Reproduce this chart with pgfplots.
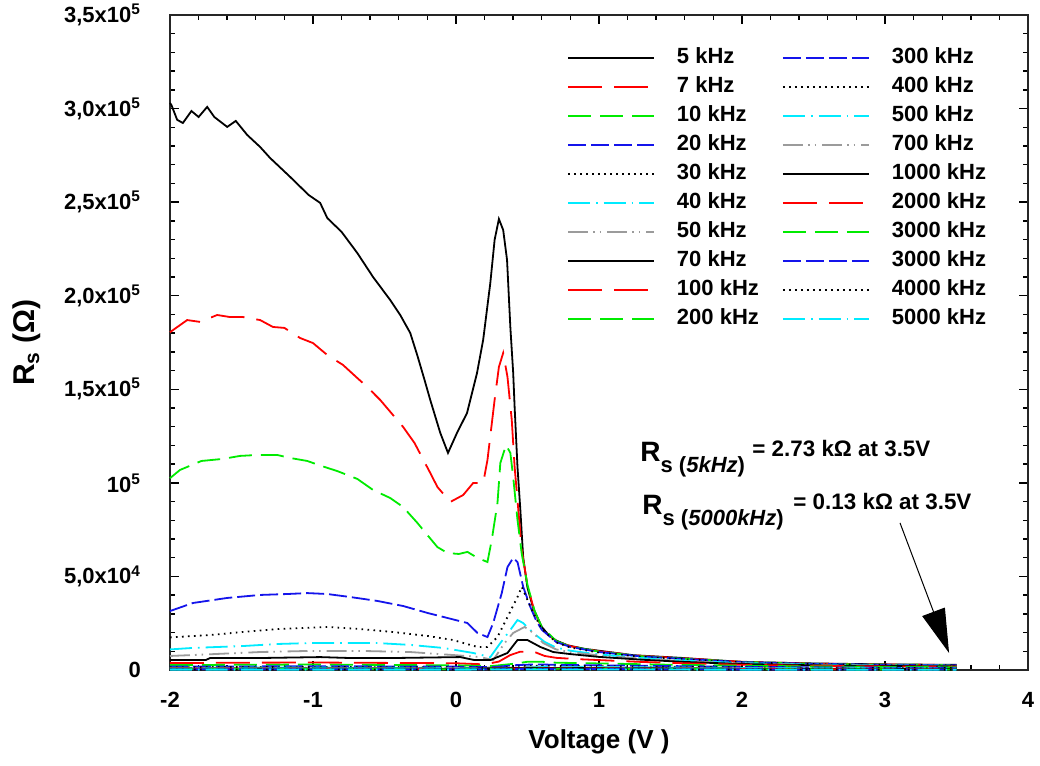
\documentclass[border=0pt]{standalone}
\usepackage{fontspec}
\setmainfont{Liberation Sans}
\usepackage{pgfplots}
\pgfplotsset{compat=1.18}
\usetikzlibrary{arrows.meta}
\definecolor{cR}{RGB}{255,0,0}
\definecolor{cG}{RGB}{0,235,0}
\definecolor{cB}{RGB}{20,20,235}
\definecolor{cC}{RGB}{0,235,255}
\definecolor{cY}{RGB}{155,155,155}
\pgfplotsset{
 sA/.style={black, line width=0.9pt},
 sB/.style={cR, line width=0.9pt, dash pattern=on 17pt off 6pt},
 sC/.style={cG, line width=0.9pt, dash pattern=on 11.5pt off 4.5pt},
 sD/.style={cB, line width=0.9pt, dash pattern=on 9pt off 2.5pt},
 sE/.style={black, line width=0.9pt, dash pattern=on 0.8pt off 2.2pt},
 sF/.style={cC, line width=0.9pt, dash pattern=on 11pt off 3pt on 0.8pt off 3pt},
 sG/.style={cY, line width=0.9pt, dash pattern=on 10pt off 2.5pt on 0.8pt off 2.5pt on 0.8pt off 3pt},
}
\begin{document}
\begin{tikzpicture}
\useasboundingbox (-85pt,-48pt) rectangle (435pt,335pt);
\begin{axis}[
 scale only axis, width=429pt, height=327.5pt,
 xmin=-2, xmax=4, ymin=0, ymax=350000,
 xtick={-2,-1,0,1,2,3,4}, xticklabels={-2,-1,0,1,2,3,4},
 ytick={0,50000,100000,150000,200000,250000,300000,350000},
 yticklabels={0,{5,0x10\textsuperscript{4}},{10\textsuperscript{5}},{1,5x10\textsuperscript{5}},{2,0x10\textsuperscript{5}},{2,5x10\textsuperscript{5}},{3,0x10\textsuperscript{5}},{3,5x10\textsuperscript{5}}},
 scaled y ticks=false,
 minor x tick num=4, minor y tick num=4,
 tick align=inside,
 major tick length=4.5pt, minor tick length=2.5pt,
 every tick/.style={black, line width=0.7pt},
 axis line style={black!85, line width=0.9pt},
 tick label style={font=\bfseries\fontsize{11}{12}\selectfont},
 xticklabel style={yshift=-7.5pt},
 yticklabel style={xshift=-11pt},
 xlabel={Voltage (V )},
 ylabel={R\textsubscript{s} (Ω)},
 every axis x label/.style={at={([yshift=-39pt]axis description cs:0.5,0)}, anchor=base, font=\bfseries\fontsize{13}{14}\selectfont},
 every axis y label/.style={at={([xshift=-71.5pt]axis description cs:0,0.5)}, rotate=90, anchor=center, font=\bfseries\fontsize{15}{16}\selectfont},
 clip=false,
 legend columns=2,
 legend cell align=left,
 legend image code/.code={\draw[#1, line width=1pt] (0pt,0pt) -- (43pt,0pt);},
 legend style={at={(0.4627,0.9511)}, anchor=north west, draw=none, fill=none, inner sep=0pt, outer sep=0pt,
   font=\bfseries\fontsize{11}{13}\selectfont, row sep=4pt,
   nodes={inner sep=0pt, text height=8pt, text depth=2.5pt},
   /tikz/every odd column/.append style={column sep=11pt},
   /tikz/every even column/.append style={column sep=11.5pt}},
]
% 5 kHz
\addplot[sA, forget plot] coordinates {(-2.0,303000) (-1.99,301900) (-1.95,294000) (-1.91,292300) (-1.85,298700) (-1.80,295500) (-1.74,300900) (-1.69,295500) (-1.60,290200) (-1.54,293400) (-1.46,285900) (-1.37,279500) (-1.30,273600) (-1.16,263500) (-1.03,253800) (-0.95,249600) (-0.90,241500) (-0.80,234100) (-0.69,222800) (-0.58,210000) (-0.46,197700) (-0.39,189700) (-0.32,180100) (-0.27,168000) (-0.22,155000) (-0.18,144300) (-0.11,126700) (-0.056,116000) (0.007,126700) (0.077,137300) (0.147,158700) (0.19,176400) (0.24,206800) (0.27,229800) (0.30,241000) (0.33,235100) (0.357,219100) (0.38,183300) (0.40,158700) (0.41,140500) (0.43,108500) (0.45,85500) (0.47,60000) (0.50,44000) (0.54,33000) (0.60,23000) (0.65,18500) (0.70,15800) (0.78,13200) (0.90,11300) (1.0,10300) (1.24,7900) (1.57,6500) (2.0,4300) (2.5,3500) (3.0,3000) (3.5,2730)};
% 7 kHz
\addplot[sB, forget plot] coordinates {(-2.0,180500) (-1.88,187000) (-1.79,186000) (-1.67,189700) (-1.58,188600) (-1.49,188600) (-1.37,187000) (-1.28,183300) (-1.20,182800) (-1.09,177400) (-1.00,174700) (-0.90,168300) (-0.79,163000) (-0.69,156000) (-0.62,151200) (-0.53,144300) (-0.37,129900) (-0.29,121300) (-0.18,105300) (-0.13,97800) (-0.04,89800) (0.05,93500) (0.12,99900) (0.19,99900) (0.22,112200) (0.27,144300) (0.30,161900) (0.33,169400) (0.36,156600) (0.39,133600) (0.41,108500) (0.43,90800) (0.46,64000) (0.50,45000) (0.55,31000) (0.60,22500) (0.70,15300) (0.80,12700) (1.0,10000) (1.3,7500) (1.6,6200) (2.0,4400) (2.5,3400) (3.0,2900) (3.5,2650)};
% 10 kHz
\addplot[sC, forget plot] coordinates {(-2.0,102500) (-1.93,106900) (-1.78,111700) (-1.63,112800) (-1.51,114400) (-1.39,114900) (-1.25,114900) (-1.16,113300) (-1.04,111700) (-0.94,109000) (-0.83,106300) (-0.69,102100) (-0.58,96200) (-0.46,91900) (-0.37,87100) (-0.27,78600) (-0.20,72100) (-0.13,65700) (-0.06,62500) (0.02,62000) (0.08,63100) (0.15,59900) (0.22,57700) (0.25,69500) (0.29,89200) (0.31,110600) (0.35,120200) (0.38,116000) (0.40,103100) (0.43,80200) (0.46,62000) (0.50,45500) (0.55,31500) (0.60,23000) (0.70,15500) (0.80,12500) (1.0,9800) (1.3,7300) (1.6,6000) (2.0,4300) (2.5,3300) (3.0,2850) (3.5,2600)};
% 20 kHz
\addplot[sD, forget plot] coordinates {(-2.0,31500) (-1.84,35800) (-1.60,38500) (-1.37,40100) (-1.18,40600) (-1.04,41100) (-0.90,40600) (-0.74,39000) (-0.55,36900) (-0.37,34200) (-0.20,30500) (-0.06,27800) (0.08,25100) (0.15,19800) (0.22,17600) (0.26,25100) (0.32,41100) (0.36,55000) (0.40,59900) (0.43,57700) (0.47,44400) (0.52,33700) (0.56,26500) (0.60,21500) (0.70,15000) (0.80,12300) (1.0,9600) (1.3,7200) (1.6,5900) (2.0,4200) (2.5,3300) (3.0,2800) (3.5,2550)};
% 30 kHz
\addplot[sE, forget plot] coordinates {(-2.0,17400) (-1.72,18700) (-1.49,20300) (-1.25,21900) (-0.90,23000) (-0.67,21900) (-0.44,20300) (-0.20,18200) (-0.02,16000) (0.15,12300) (0.22,12300) (0.29,17600) (0.36,28300) (0.43,39000) (0.46,44400) (0.50,37400) (0.54,30500) (0.60,22000) (0.70,14800) (0.80,12000) (1.0,9300) (1.3,7000) (1.6,5700) (2.0,4100) (2.5,3200) (3.0,2700) (3.5,2500)};
% 40 kHz
\addplot[sF, forget plot] coordinates {(-2.0,11000) (-1.84,11800) (-1.49,12800) (-1.25,13900) (-1.02,14400) (-0.79,14400) (-0.55,14400) (-0.32,13400) (-0.09,11800) (0.12,9100) (0.24,6900) (0.31,14400) (0.38,21400) (0.43,26700) (0.47,25100) (0.54,19800) (0.62,15000) (0.70,12000) (0.80,10300) (1.0,8300) (1.3,6400) (1.6,5000) (2.0,3700) (2.5,2900) (3.0,2400) (3.5,2300)};
% 50 kHz
\addplot[sG, forget plot] coordinates {(-2.0,7500) (-1.84,8000) (-1.37,9600) (-1.02,10200) (-0.67,10200) (-0.32,9600) (-0.02,8000) (0.17,6900) (0.26,5300) (0.34,14400) (0.40,19800) (0.48,23000) (0.54,19800) (0.61,14400) (0.70,11000) (0.80,9500) (1.0,7800) (1.3,6000) (1.6,4700) (2.0,3500) (2.5,2700) (3.0,2300) (3.5,2200)};
% 70 kHz
\addplot[sA, forget plot] coordinates {(-2.0,5300) (-1.75,5300) (-1.72,6400) (-1.37,6400) (-0.95,6900) (-0.74,6400) (-0.44,6400) (0.03,6900) (0.13,5300) (0.24,5300) (0.36,9100) (0.43,16000) (0.50,16000) (0.59,12300) (0.68,9600) (0.80,8500) (1.0,7000) (1.3,5500) (1.6,4300) (2.0,3200) (2.5,2500) (3.0,2100) (3.5,2000)};
% 100 kHz
\addplot[sB, forget plot] coordinates {(-2.0,3700) (-1.5,3900) (-1.0,4000) (-0.5,3800) (0.0,3600) (0.2,3000) (0.30,4500) (0.38,8000) (0.45,9800) (0.55,9600) (0.62,7500) (0.70,6500) (0.85,5800) (1.0,5300) (1.3,4300) (1.6,3600) (2.0,2800) (2.5,2200) (3.0,1900) (3.5,1800)};
% 200 kHz
\addplot[sC, forget plot] coordinates {(-2.0,2600) (-1.5,2800) (-1.0,2900) (-0.5,2700) (0.0,2500) (0.25,2100) (0.40,3300) (0.50,4400) (0.60,4400) (0.70,3900) (1.0,3500) (1.5,2800) (2.0,2300) (2.5,1900) (3.0,1600) (3.5,1500)};
% 300 kHz
\addplot[sD, forget plot] coordinates {(-2.0,1800) (-1.0,2000) (0.0,1800) (0.25,1500) (0.42,2600) (0.55,3000) (0.75,2700) (1.0,2500) (1.5,2100) (2.0,1700) (2.5,1400) (3.0,1250) (3.5,1200)};
% 400 kHz
\addplot[sE, forget plot] coordinates {(-2.0,1500) (-1.0,1600) (0.0,1400) (0.3,1200) (0.45,2000) (0.6,2300) (1.0,2000) (1.5,1700) (2.0,1400) (2.5,1200) (3.0,1050) (3.5,1000)};
% 500 kHz
\addplot[sF, forget plot] coordinates {(-2.0,1200) (-1.0,1300) (0.0,1100) (0.3,900) (0.5,1700) (0.7,1800) (1.0,1600) (2.0,1100) (3.0,850) (3.5,800)};
% 700 kHz
\addplot[sG, forget plot] coordinates {(-2.0,1000) (-1.0,1100) (0.0,900) (0.5,1400) (1.0,1300) (2.0,900) (3.0,700) (3.5,650)};
% 1000 kHz
\addplot[sA, forget plot] coordinates {(-2.0,800) (-1.0,850) (0.0,700) (0.5,1100) (1.0,1000) (2.0,700) (3.0,550) (3.5,500)};
% 2000 kHz
\addplot[sB, forget plot] coordinates {(-2,600) (0,550) (0.5,800) (1,750) (2,500) (3.5,350)};
% 3000 kHz (green)
\addplot[sC, forget plot] coordinates {(-2,500) (0,450) (0.5,650) (1,600) (2,400) (3.5,280)};
% 3000 kHz (blue)
\addplot[sD, forget plot] coordinates {(-2,400) (0,350) (0.5,520) (1,480) (2,330) (3.5,250)};
% 4000 kHz
\addplot[sE, forget plot] coordinates {(-2,300) (0,280) (0.5,400) (1,380) (2,260) (3.5,200)};
% 5000 kHz
\addplot[sF, forget plot] coordinates {(-2,200) (0,190) (0.5,300) (1,270) (2,180) (3.5,130)};
% legend, filled column by column as in the reference
\addlegendimage{sA}\addlegendentry{5 kHz}
\addlegendimage{sD}\addlegendentry{300 kHz}
\addlegendimage{sB}\addlegendentry{7 kHz}
\addlegendimage{sE}\addlegendentry{400 kHz}
\addlegendimage{sC}\addlegendentry{10 kHz}
\addlegendimage{sF}\addlegendentry{500 kHz}
\addlegendimage{sD}\addlegendentry{20 kHz}
\addlegendimage{sG}\addlegendentry{700 kHz}
\addlegendimage{sE}\addlegendentry{30 kHz}
\addlegendimage{sA}\addlegendentry{1000 kHz}
\addlegendimage{sF}\addlegendentry{40 kHz}
\addlegendimage{sB}\addlegendentry{2000 kHz}
\addlegendimage{sG}\addlegendentry{50 kHz}
\addlegendimage{sC}\addlegendentry{3000 kHz}
\addlegendimage{sA}\addlegendentry{70 kHz}
\addlegendimage{sD}\addlegendentry{3000 kHz}
\addlegendimage{sB}\addlegendentry{100 kHz}
\addlegendimage{sE}\addlegendentry{4000 kHz}
\addlegendimage{sC}\addlegendentry{200 kHz}
\addlegendimage{sF}\addlegendentry{5000 kHz}
% annotations
\node[anchor=base west, inner sep=0pt, font=\bfseries\fontsize{14}{14}\selectfont] at (axis cs:1.287,111150) {R\raisebox{-5.5pt}{\fontsize{11}{12}\selectfont s (\textit{5kHz})}};
\node[anchor=base west, inner sep=0pt, font=\bfseries\fontsize{11.2}{12}\selectfont] at (axis cs:2.070,113830) {= 2.73 kΩ at 3.5V};
\node[anchor=base west, inner sep=0pt, font=\bfseries\fontsize{14}{14}\selectfont] at (axis cs:1.301,82830) {R\raisebox{-5.5pt}{\fontsize{11}{12}\selectfont s (\textit{5000kHz})}};
\node[anchor=base west, inner sep=0pt, font=\bfseries\fontsize{11.2}{12}\selectfont] at (axis cs:2.357,85500) {= 0.13 kΩ at 3.5V};
\draw[-{Triangle[length=22pt,width=12pt]}, line width=0.5pt] (axis cs:3.105,78600) -- (axis cs:3.448,9100);
\end{axis}
\end{tikzpicture}
\end{document}
